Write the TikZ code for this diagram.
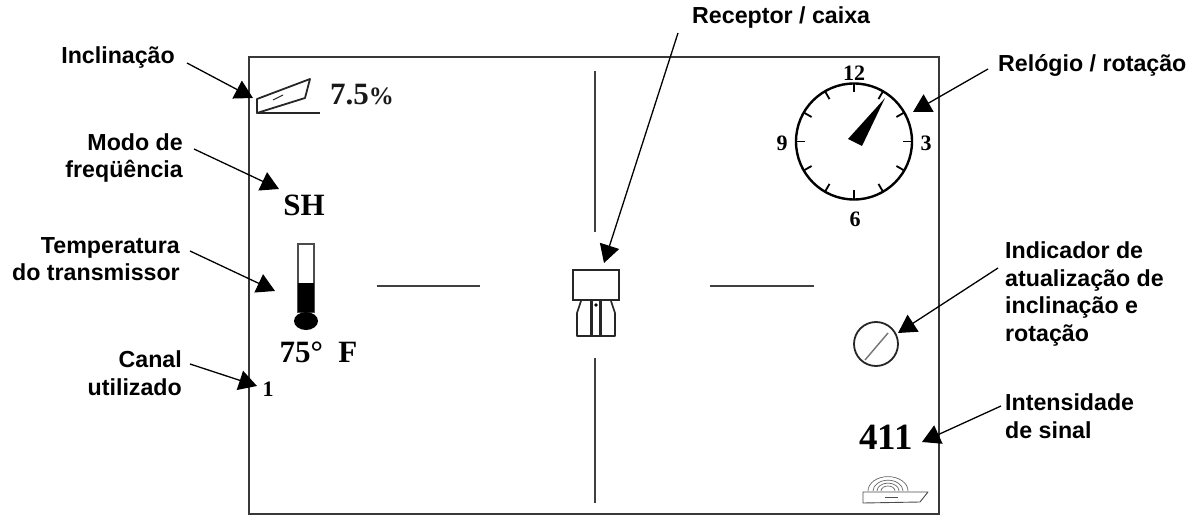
\documentclass[tikz,border=0pt]{standalone}
\usepackage{fontspec}
\setmainfont{Liberation Serif}
\newfontfamily\lblfont{Liberation Sans}
\usetikzlibrary{arrows.meta,calc}
\definecolor{frameC}{gray}{0.22}
\tikzset{
  lbl/.style={font=\lblfont\bfseries\fontsize{23.2}{27.6}\selectfont,inner sep=0pt,text=black},
  callout/.style={line width=1.3pt,-{Triangle[length=18pt,width=20pt]},shorten >=0pt},
  lcd/.style={line width=1.4pt,color=black!75},
  num/.style={font=\bfseries\fontsize{22}{22}\selectfont,inner sep=0pt,text=black},
  icon/.style={line width=1.8pt,black!85,line join=round}
}
\begin{document}
\begin{tikzpicture}[x=1pt,y=-1pt]
\useasboundingbox (0,0) rectangle (1195,516);
% frame
\draw[line width=2.8pt,frameC] (249,57) rectangle (939,514);
% crosshair
\draw[lcd] (595,71) -- (595,232);
\draw[lcd] (595,358) -- (595,503);
\draw[lcd] (377,286) -- (480,286);
\draw[lcd] (710,286) -- (814,286);
% inclination icon
\draw[icon] (257,99) -- (310,79) -- (305,98) -- (257,113) -- cycle;
\draw[icon] (257,113) -- (320,113);
\draw[icon,line width=1pt] (273,100) -- (283,95);
\node[inner sep=0pt,anchor=base west,font=\bfseries\fontsize{31}{31}\selectfont,text=black!90] (grade) at (330,105) {7.5{\fontsize{25}{25}\selectfont\%}};
% clock
\node[circle,draw=black,line width=2.4pt,minimum size=116pt,inner sep=0pt] (clock) at (854,141.5) {};
\foreach \a in {0,30,...,330}{
  \draw[line width=1.8pt] ($(clock.center)+(\a:58)$) -- ($(clock.center)+(\a:49)$);
}
\fill (885,98) -- (848,139) -- (862,146) -- cycle;
\node[num] (n12) at (854,73) {12};
\node[num] (n3) at (926,143) {3};
\node[num] (n6) at (855,219) {6};
\node[num] (n9) at (782,143) {9};
% SH and temperature
\node[inner sep=0pt,font=\bfseries\fontsize{31}{31}\selectfont] (sh) at (304,205) {SH};
\node[draw=black!70,line width=1.4pt,minimum width=16pt,minimum height=68pt,inner sep=0pt] (thermo) at (306,278) {};
\fill (298,283) rectangle (314,312);
\fill (306,321) ellipse [x radius=12,y radius=9];
\node[inner sep=0pt,font=\bfseries\fontsize{31}{31}\selectfont,text=black] (temp) at (318.5,352) {75°\ \ F};
\node[inner sep=0pt,font=\bfseries\fontsize{22}{22}\selectfont,text=black] (chan) at (268,389) {1};
% receiver
\node[draw=black!85,line width=2.2pt,minimum width=46pt,minimum height=30pt,inner sep=0pt] (rx) at (596,285) {};
\draw[line width=1.7pt,black!85,line join=round] (581,301) -- (577,313) -- (577,336) -- (615,336) -- (615,313) -- (611,301);
\draw[line width=3pt,black!85] (591,301) -- (591,336) (600,301) -- (600,336);
\fill (596,305) circle (1.8);
% update indicator
\node[circle,draw=black!85,line width=1.8pt,minimum size=44pt,inner sep=0pt] (upd) at (876,344) {};
\draw[line width=1.4pt,black!55] (865,360) -- (888,333);
% signal
\node[inner sep=0pt,font=\bfseries\fontsize{37}{37}\selectfont] (sig) at (886,437) {411};
\draw[line width=.9pt,black!70,line join=round] (863,492) -- (928,492) -- (920,502) -- (863,503) -- cycle;
\draw[line width=.8pt,black!70] (885,497) -- (898,497);
\foreach \r in {7,11,15,20}{
  \draw[line width=.7pt,black!60] ($(888,491)+(-\r,0)$) arc[start angle=180,end angle=0,x radius=\r pt,y radius=.72*\r pt];
}
% labels
\node[lbl,anchor=east] (l1) at (175,58) {Inclinação};
\node[lbl,anchor=east,align=right] (l2) at (183,158) {Modo de\\freqüência};
\node[lbl,anchor=east,align=right] (l3) at (180,259) {Temperatura\\do transmissor};
\node[lbl,anchor=east,align=right] (l4) at (182,373.5) {Canal\\utilizado};
\node[lbl,anchor=west] (l5) at (692,18) {Receptor / caixa};
\node[lbl,anchor=west] (l6) at (998,65) {Relógio / rotação};
\node[lbl,anchor=west,align=left] (l7) at (1005,294) {Indicador de\\atualização de\\inclinação e\\rotação};
\node[lbl,anchor=west,align=left] (l8) at (1005,416) {Intensidade\\de sinal};
% callout ends
\coordinate (t1) at (253,98);
\coordinate (t2) at (279,189);
\coordinate (t3) at (275,291);
\coordinate (t4) at (257,386);
\coordinate (t5) at (604,263);
\coordinate (t6) at (913,112);
\coordinate (t7) at (898,333);
\coordinate (t8) at (922,442);
\coordinate (s1) at (187,63);
\coordinate (s2) at (194,149);
\coordinate (s3) at (190,251);
\coordinate (s4) at (190,364);
\coordinate (s5) at (678,33);
\coordinate (s6) at (988,69);
\coordinate (s7) at (998,268);
\coordinate (s8) at (1001,406);
\foreach \i in {1,...,8}{\draw[callout] (s\i) -- (t\i);}
\end{tikzpicture}
\end{document}
